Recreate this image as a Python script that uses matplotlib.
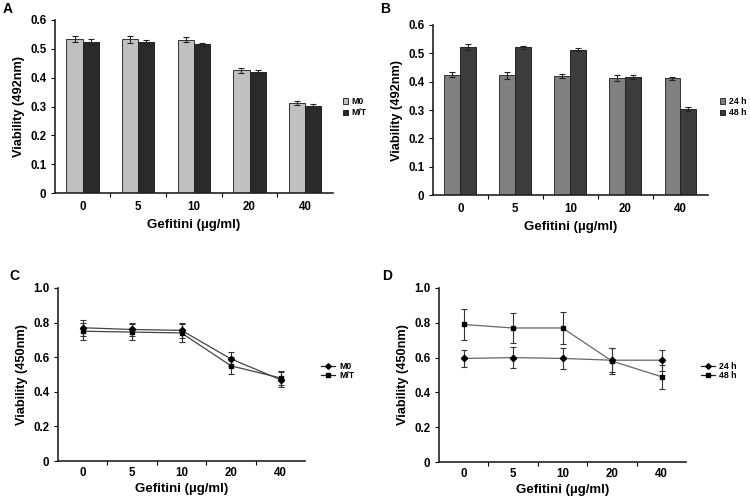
import matplotlib
matplotlib.use("Agg")
import matplotlib.pyplot as plt
import matplotlib.lines as mlines
import numpy as np
from matplotlib.ticker import FixedLocator

plt.rcParams['font.family'] = ['Liberation Sans', 'DejaVu Sans']
plt.rcParams['font.weight'] = 'bold'

doses = ["0", "5", "10", "20", "40"]

# Panel A (bars)
a_m0 = [0.535, 0.533, 0.531, 0.425, 0.312]
a_m0_err = [0.010, 0.012, 0.009, 0.008, 0.008]
a_mt = [0.525, 0.523, 0.515, 0.419, 0.303]
a_mt_err = [0.010, 0.006, 0.006, 0.006, 0.007]

# Panel B (bars)
b_24 = [0.425, 0.422, 0.420, 0.413, 0.412]
b_24_err = [0.010, 0.012, 0.008, 0.009, 0.006]
b_48 = [0.522, 0.521, 0.513, 0.417, 0.303]
b_48_err = [0.010, 0.006, 0.006, 0.007, 0.008]

# Panel C (lines)
c_m0 = [0.770, 0.760, 0.755, 0.590, 0.470]
c_m0_err = [0.045, 0.040, 0.045, 0.040, 0.045]
c_mt = [0.750, 0.745, 0.740, 0.550, 0.480]
c_mt_err = [0.050, 0.045, 0.050, 0.050, 0.040]

# Panel D (lines)
d_24 = [0.595, 0.600, 0.595, 0.585, 0.585]
d_24_err = [0.050, 0.060, 0.060, 0.070, 0.060]
d_48 = [0.790, 0.770, 0.770, 0.580, 0.490]
d_48_err = [0.090, 0.085, 0.090, 0.075, 0.070]

fig = plt.figure(figsize=(7.5, 4.99), dpi=100)

TICK_FS = 8.3
XLAB_FS = 9.5
YLAB_FS = 9.2

def style_axes(ax, ymax, yticks, yticklabels, ylabel, xpad, xlabpad):
    for s in ['top', 'right']:
        ax.spines[s].set_visible(False)
    for s in ['left', 'bottom']:
        ax.spines[s].set_linewidth(1.2)
        ax.spines[s].set_color('#222222')
    x = np.arange(len(doses))
    ax.set_xlim(-0.5, 4.5)
    ax.set_ylim(0, ymax)
    ax.set_xticks(x)
    ax.set_xticklabels(doses, fontsize=TICK_FS, fontweight='bold')
    ax.tick_params(axis='x', which='major', length=0, pad=xpad)
    ax.xaxis.set_minor_locator(FixedLocator([0.5, 1.5, 2.5, 3.5]))
    ax.tick_params(axis='x', which='minor', length=3, width=0.8, direction='out')
    ax.set_yticks(yticks)
    ax.set_yticklabels(yticklabels, fontsize=TICK_FS, fontweight='bold')
    ax.tick_params(axis='y', length=3, width=0.8, pad=3)
    ax.set_xlabel("Gefitini (µg/ml)", fontsize=XLAB_FS, fontweight='bold', labelpad=xlabpad)
    ax.set_ylabel(ylabel, fontsize=YLAB_FS, fontweight='bold', labelpad=4)

def bar_panel(rect, s1, e1, s2, e2, c1, c2, names, leg_xy, letter, letter_xy):
    ax = fig.add_axes(rect)
    x = np.arange(len(doses))
    w = 0.29
    ax.bar(x - w/2, s1, w, yerr=e1, color=c1, edgecolor='#333333', linewidth=0.7,
           error_kw=dict(ecolor='#222222', elinewidth=0.8, capsize=2, capthick=0.8), label=names[0])
    ax.bar(x + w/2, s2, w, yerr=e2, color=c2, edgecolor='#222222', linewidth=0.7,
           error_kw=dict(ecolor='#222222', elinewidth=0.8, capsize=2, capthick=0.8), label=names[1])
    style_axes(ax, 0.6, [0, 0.1, 0.2, 0.3, 0.4, 0.5, 0.6],
               ["0", "0.1", "0.2", "0.3", "0.4", "0.5", "0.6"], "Viability (492nm)", 6, 4)
    ax.legend(loc='center left', bbox_to_anchor=leg_xy, bbox_transform=fig.transFigure,
              frameon=False, fontsize=6.3, handlelength=0.6, handleheight=0.6,
              handletextpad=0.4, labelspacing=0.25, borderpad=0, borderaxespad=0)
    fig.text(letter_xy[0], letter_xy[1], letter, fontsize=10, fontweight='bold', va='top')
    return ax

def line_panel(rect, s1, e1, s2, e2, names, line_color, leg_xy, letter, letter_xy):
    ax = fig.add_axes(rect)
    x = np.arange(len(doses))
    ax.errorbar(x, s1, yerr=e1, color=line_color, ecolor='#333333', elinewidth=0.8,
                capsize=2, capthick=0.8, linewidth=0.9, marker='D', markersize=3.2,
                markerfacecolor='black', markeredgecolor='black', label=names[0])
    ax.errorbar(x, s2, yerr=e2, color=line_color, ecolor='#333333', elinewidth=0.8,
                capsize=2, capthick=0.8, linewidth=0.9, marker='s', markersize=3.5,
                markerfacecolor='black', markeredgecolor='black', label=names[1])
    style_axes(ax, 1.0, [0, 0.2, 0.4, 0.6, 0.8, 1.0],
               ["0", "0.2", "0.4", "0.6", "0.8", "1.0"], "Viability (450nm)", 4.5, 2.5)
    h1 = mlines.Line2D([], [], color='#222222', lw=0.9, marker='D', markersize=2.8,
                       markerfacecolor='black', markeredgecolor='black')
    h2 = mlines.Line2D([], [], color='#222222', lw=0.9, marker='s', markersize=3.0,
                       markerfacecolor='black', markeredgecolor='black')
    ax.legend([h1, h2], names, loc='center left', bbox_to_anchor=leg_xy,
              bbox_transform=fig.transFigure, frameon=False, fontsize=6.3,
              handlelength=1.6, handletextpad=0.5, labelspacing=0.0, borderpad=0,
              borderaxespad=0)
    fig.text(letter_xy[0], letter_xy[1], letter, fontsize=10, fontweight='bold', va='top')
    return ax

bar_panel([0.073, 0.613, 0.371, 0.347], a_m0, a_m0_err, a_mt, a_mt_err,
          '#c0c0c0', '#2a2a2a', ["M0", "M/T"], (0.457, 0.785), "A", (0.003, 0.995))
bar_panel([0.577, 0.609, 0.367, 0.341], b_24, b_24_err, b_48, b_48_err,
          '#808080', '#3c3c3c', ["24 h", "48 h"], (0.960, 0.785), "B", (0.507, 0.995))
line_panel([0.077, 0.076, 0.330, 0.347], c_m0, c_m0_err, c_mt, c_mt_err,
           ["M0", "M/T"], '#444444', (0.428, 0.257), "C", (0.013, 0.46))
line_panel([0.585, 0.074, 0.330, 0.349], d_24, d_24_err, d_48, d_48_err,
           ["24 h", "48 h"], '#666666', (0.934, 0.257), "D", (0.51, 0.46))

fig.savefig("out.png", dpi=100, facecolor='white')
